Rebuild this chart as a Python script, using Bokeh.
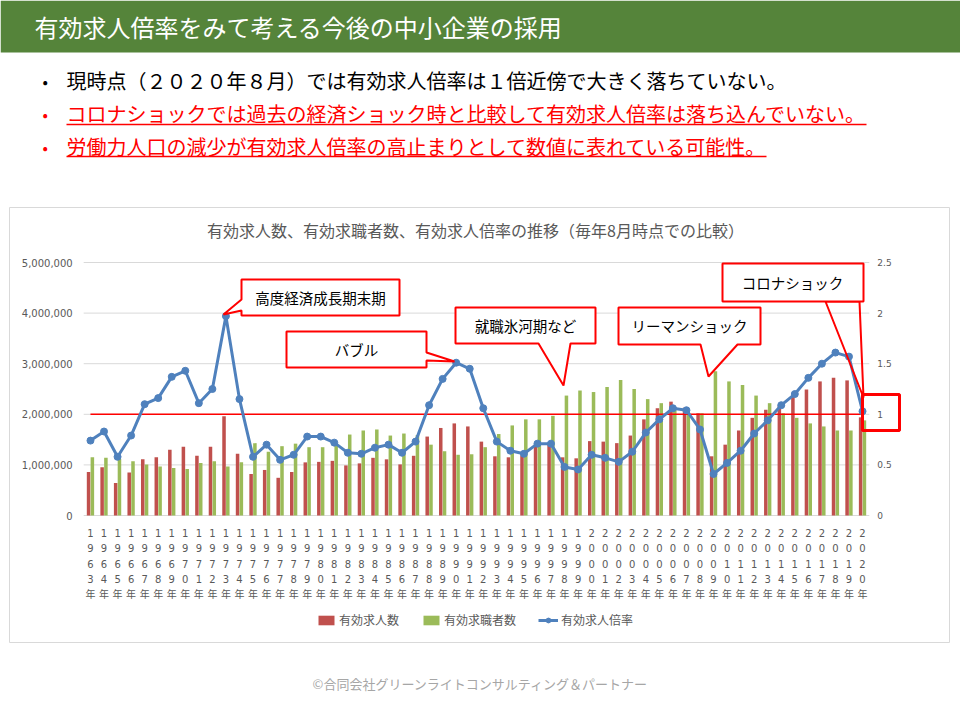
from bokeh.plotting import figure
from bokeh.models import (ColumnDataSource, Range1d, Legend, LegendItem, Label, PolyAnnotation)
from bokeh.core.properties import value
from bokeh.transform import dodge
from bokeh.embed import file_html
from bokeh.resources import INLINE

# ---------------- data ----------------
years = list(range(1963, 2021))

job_offers = [0.86, 0.955, 0.64, 0.85, 1.11, 1.15, 1.30, 1.36, 1.18, 1.36,
              1.96, 1.22, 0.82, 0.90, 0.745, 0.86, 1.05, 1.06, 1.08, 0.99,
              1.03, 1.14, 1.11, 1.01, 1.18, 1.56, 1.73, 1.82, 1.76, 1.46,
              1.17, 1.15, 1.19, 1.37, 1.40, 1.15, 1.13, 1.47, 1.46, 1.43,
              1.58, 1.90, 2.12, 2.25, 2.13, 2.02, 1.17, 1.40, 1.68, 1.93,
              2.09, 2.17, 2.35, 2.49, 2.65, 2.72, 2.67, 1.94]
job_seekers = [1.15, 1.14, 1.12, 1.07, 1.01, 0.97, 0.94, 0.92, 1.04, 1.07,
               0.97, 1.05, 1.43, 1.26, 1.37, 1.42, 1.35, 1.35, 1.40, 1.60,
               1.68, 1.70, 1.58, 1.62, 1.59, 1.40, 1.27, 1.20, 1.21, 1.35,
               1.61, 1.78, 1.90, 1.90, 1.97, 2.37, 2.47, 2.44, 2.54, 2.68,
               2.50, 2.30, 2.22, 2.14, 2.04, 2.02, 2.85, 2.65, 2.58, 2.37,
               2.22, 2.02, 1.93, 1.82, 1.76, 1.68, 1.68, 1.88]
ratio = [0.74, 0.83, 0.58, 0.79, 1.10, 1.16, 1.37, 1.43, 1.11, 1.25,
         1.97, 1.15, 0.58, 0.70, 0.55, 0.60, 0.78, 0.78, 0.72, 0.62,
         0.61, 0.67, 0.70, 0.62, 0.73, 1.09, 1.35, 1.51, 1.45, 1.06,
         0.73, 0.64, 0.61, 0.71, 0.71, 0.48, 0.455, 0.60, 0.57, 0.53,
         0.63, 0.82, 0.95, 1.06, 1.04, 0.85, 0.41, 0.52, 0.64, 0.81,
         0.94, 1.09, 1.20, 1.36, 1.50, 1.61, 1.57, 1.03]
job_offers = [v * 1_000_000 for v in job_offers]
job_seekers = [v * 1_000_000 for v in job_seekers]

left_ticks = [0, 1_000_000, 2_000_000, 3_000_000, 4_000_000, 5_000_000]
right_ticks = [0, 0.5, 1, 1.5, 2, 2.5]
ratio_ref = 1.0

chart_title = "有効求人数、有効求職者数、有効求人倍率の推移（毎年8月時点での比較）"
page_title = "有効求人倍率をみて考える今後の中小企業の採用"
bullets = ["現時点（２０２０年８月）では有効求人倍率は１倍近傍で大きく落ちていない。",
           "コロナショックでは過去の経済ショック時と比較して有効求人倍率は落ち込んでいない。",
           "労働力人口の減少が有効求人倍率の高止まりとして数値に表れている可能性。"]
footer = "©合同会社グリーンライトコンサルティング＆パートナー"
series_names = ["有効求人数", "有効求職者数", "有効求人倍率"]

# ---------------- styling / layout constants ----------------
JP = "Noto Sans CJK JP"
NUM = "DejaVu Sans, Noto Sans CJK JP"
GRAY = "#595959"
RED = "#C0504D"
GREEN = "#9BBB59"
BLUE = "#4F81BD"
CR = "#FF0000"

W, H = 960, 720
# plot area of the chart on the page (pixels)
PX0, PX1 = 83.2, 868.8      # left/right edge of category band
PY0, PY1 = 515.0, 262.0     # y of value 0 and of axis maximum
YMAX, RMAX = 5_000_000, 2.5
n = len(years)


def span_for(v0, v1, p0, p1, full):
    """range (start,end) so that v0->pixel p0, v1->pixel p1 on a canvas of `full` px"""
    k = (v1 - v0) / (p1 - p0)
    return v0 + (0 - p0) * k, v0 + (full - p0) * k


xs0, xs1 = span_for(-0.5, n - 0.5, PX0, PX1, W)
# y in Bokeh grows upwards: pixel from bottom = H - page_y
cs0, cs1 = span_for(0, YMAX, H - PY0, H - PY1, H)
rs0, rs1 = span_for(0, RMAX, H - PY0, H - PY1, H)

# main frame = whole page, in page pixels (y flipped so that it reads top-down)
p = figure(width=W, height=H, output_backend="svg", toolbar_location=None,
           x_range=Range1d(0, W), y_range=Range1d(H, 0),
           x_axis_type=None, y_axis_type=None, min_border=0,
           background_fill_color="white", border_fill_color="white")
p.outline_line_color = None
p.xgrid.visible = False
p.ygrid.visible = False
p.extra_x_ranges = {"year": Range1d(xs0, xs1)}
p.extra_y_ranges = {"count": Range1d(cs0, cs1), "ratio": Range1d(rs0, rs1)}

idx = list(range(n))
src = ColumnDataSource(dict(x=idx, offers=job_offers, seekers=job_seekers, ratio=ratio))

# ---------- header ----------
p.quad(left=[0], right=[W], top=[0], bottom=[52], fill_color="#55843A", line_color=None)


def label(px, py, text, size, color="black", align="left", font=JP):
    p.add_layout(Label(x=px, y=py, text=text, text_font=font, text_font_size=size,
                       text_color=color, text_align=align, text_baseline="middle"))


def poly(pts, fill=None, line=None, lw=1.0):
    p.add_layout(PolyAnnotation(xs=[x for x, _ in pts], ys=[y for _, y in pts],
                                fill_color=fill if fill else "white",
                                fill_alpha=1.0 if fill else 0.0,
                                line_color=line if line else "white", line_width=lw,
                                line_alpha=1.0 if line else 0.0))


label(34, 26, page_title, "24px", color="white")
bullet_y = [80, 113, 146]
bullet_c = ["black", CR, CR]
for text, y, c in zip(bullets, bullet_y, bullet_c):
    label(42, y, "•", "16px", color=c)
    label(66, y, text, "20px", color=c)
p.segment(x0=[66, 66], x1=[866, 766], y0=[124, 156], y1=[124, 156],
          line_color=CR, line_width=1.5)

# ---------- chart container & title ----------
poly([(9, 207), (949, 207), (949, 642), (9, 642)], line="#D9D9D9", lw=1)
label(475, 229, chart_title, "16px", color=GRAY, align="center")

# ---------- chart: grid + axes tick labels (through the chart scales) ----------
ax_kw = dict(x_range_name="year")
p.segment(x0=[-0.5] * len(left_ticks), x1=[n - 0.5] * len(left_ticks),
          y0=left_ticks, y1=left_ticks, y_range_name="count",
          line_color="#D9D9D9", line_width=1, **ax_kw)
p.text(x=[-0.5] * len(left_ticks), y=left_ticks, text=[f"{v:,}" for v in left_ticks],
       x_offset=-11, text_align="right", text_baseline="middle", y_range_name="count",
       text_font=value(NUM), text_font_size="10px", text_color=GRAY, **ax_kw)
p.text(x=[n - 0.5] * len(right_ticks), y=right_ticks, text=[f"{v:g}" for v in right_ticks],
       x_offset=8, text_align="left", text_baseline="middle", y_range_name="ratio",
       text_font=value(NUM), text_font_size="9px", text_color=GRAY, **ax_kw)
year_strs = [str(y) + "年" for y in years]
row_offsets = [17, 32.5, 48, 63.5, 79]
for row, off in enumerate(row_offsets):
    p.text(x=idx, y=[0] * n, text=[s[row] for s in year_strs], y_offset=off,
           text_align="center", text_baseline="middle", y_range_name="count",
           text_font=value(NUM), text_font_size="10px", text_color=GRAY, **ax_kw)

# ---------- chart series ----------
r_off = p.vbar(x=dodge("x", -0.14), top="offers", width=0.26, source=src,
               fill_color=RED, line_color=None, y_range_name="count", **ax_kw)
r_seek = p.vbar(x=dodge("x", 0.14), top="seekers", width=0.26, source=src,
                fill_color=GREEN, line_color=None, y_range_name="count", **ax_kw)
p.line(x=[idx[0], idx[-1]], y=[ratio_ref, ratio_ref], y_range_name="ratio",
       line_color=CR, line_width=1.5, **ax_kw)
r_line = p.line(x="x", y="ratio", source=src, y_range_name="ratio",
                line_color=BLUE, line_width=3, **ax_kw)
r_pts = p.scatter(x="x", y="ratio", source=src, y_range_name="ratio", size=7,
                  fill_color=BLUE, line_color=BLUE, **ax_kw)

legend = Legend(items=[LegendItem(label=series_names[0], renderers=[r_off]),
                       LegendItem(label=series_names[1], renderers=[r_seek]),
                       LegendItem(label=series_names[2], renderers=[r_line, r_pts])],
                orientation="horizontal", location=(316, H - 628),
                label_text_font=JP, label_text_font_size="12px", label_text_color=GRAY,
                glyph_width=20, glyph_height=12, spacing=22, label_standoff=3,
                border_line_color=None, background_fill_alpha=0, margin=0, padding=2)
p.add_layout(legend)

# ---------- callouts ----------
poly([(241, 279), (399, 279), (399, 315), (241, 315), (241, 310), (223, 314), (241, 299)],
     fill="white", line=CR, lw=2)
label(320, 297, "高度経済成長期末期", "14.5px", align="center")

poly([(286, 331), (426, 331), (426, 352), (454, 361), (426, 360), (426, 367), (286, 367)],
     fill="white", line=CR, lw=2)
label(356, 349, "バブル", "14.5px", align="center")

poly([(455, 307), (595, 307), (595, 343), (570, 343), (563, 385), (538, 343), (455, 343)],
     fill="white", line=CR, lw=2)
label(525, 325, "就職氷河期など", "14.5px", align="center")

poly([(618, 307), (760, 307), (760, 344), (737, 344), (708, 376), (700, 344), (618, 344)],
     fill="white", line=CR, lw=2)
label(689, 325, "リーマンショック", "14.5px", align="center")

poly([(825, 301), (863, 397), (859, 301)], line=CR, lw=2)
poly([(722, 263), (863, 263), (863, 301), (722, 301)], fill="white", line=CR, lw=2)
label(792, 282, "コロナショック", "14.5px", align="center")

poly([(862, 394), (899, 394), (899, 430), (862, 430)], line=CR, lw=3)

# ---------- footer ----------
label(480, 683, footer, "13px", color="#A6A6A6", align="center")

open("out.html", "w").write(file_html(p, INLINE))
